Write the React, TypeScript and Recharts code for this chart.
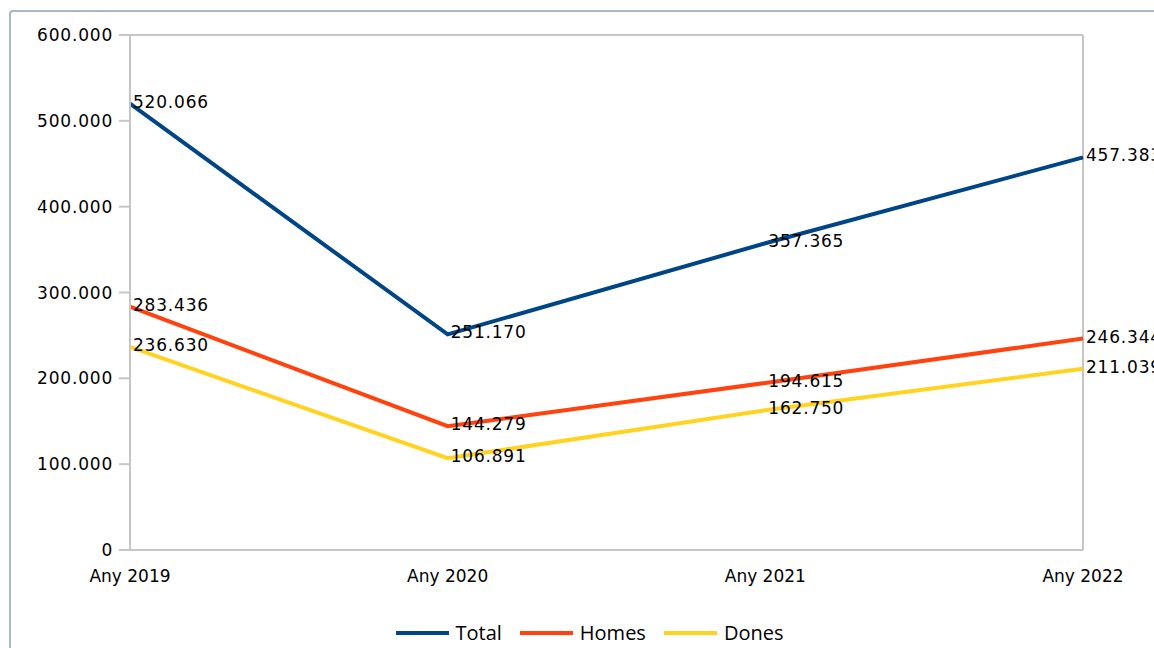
import React from 'react';
import { LineChart, Line, XAxis, YAxis, Legend, ReferenceLine } from 'recharts';

const years = ['Any 2019', 'Any 2020', 'Any 2021', 'Any 2022'];
const total = [520066, 251170, 357365, 457383];
const homes = [283436, 144279, 194615, 246344];
const dones = [236630, 106891, 162750, 211039];
const yTicks = [0, 100000, 200000, 300000, 400000, 500000, 600000];

const series = [
  { key: 'total', name: 'Total', color: '#004586' },
  { key: 'homes', name: 'Homes', color: '#ff420e' },
  { key: 'dones', name: 'Dones', color: '#ffd320' },
];

const data = years.map((year, i) => ({
  year,
  total: total[i],
  homes: homes[i],
  dones: dones[i],
}));

// thousands separated by dots, e.g. 520.066
const fmt = (v: number) => String(Math.round(v)).replace(/\B(?=(\d{3})+(?!\d))/g, '.');

const axisColor = '#c6c6c6';
const numFont = '"DejaVu Sans", sans-serif';

const renderValueLabel = (props: any) => {
  const { x, y, value } = props;
  if (x == null || y == null) return null;
  return (
    <text
      x={x + 3}
      y={y - 2}
      dominantBaseline="central"
      textAnchor="start"
      fontSize={17}
      fontFamily={numFont}
      letterSpacing={0.8}
      fill="#000"
    >
      {fmt(value)}
    </text>
  );
};

const LegendContent = () => (
  <div
    style={{
      height: 48,
      boxSizing: 'border-box',
      paddingTop: 18,
      paddingLeft: 25,
      display: 'flex',
      justifyContent: 'center',
      alignItems: 'center',
      fontFamily: '"Open Sans", sans-serif',
      fontSize: 20,
      color: '#000',
    }}
  >
    {series.map((s, i) => (
      <div key={s.key} style={{ display: 'flex', alignItems: 'center', marginRight: i < series.length - 1 ? 18 : 0 }}>
        <div style={{ width: 53, height: 4, background: s.color, marginRight: 7 }} />
        <span style={{ lineHeight: '30px' }}>{s.name}</span>
      </div>
    ))}
  </div>
);

export default function App() {
  return (
    <div
      style={{
        position: 'fixed',
        left: 0,
        top: 0,
        width: 1154,
        height: 648,
        overflow: 'hidden',
        background: '#fff',
      }}
    >
      {/* outer frame, runs off the right and bottom edges */}
      <div
        style={{
          position: 'absolute',
          left: 9,
          top: 10,
          width: 1200,
          height: 700,
          border: '2px solid #a9b7cc',
          borderRadius: 4,
        }}
      />
      <div style={{ position: 'absolute', left: 0, top: 0 }}>
        <LineChart width={1154} height={648} data={data} margin={{ top: 35, right: 71, left: 0, bottom: 0 }}>
          <XAxis
            dataKey="year"
            tickLine={false}
            tickSize={0}
            tickMargin={20}
            height={50}
            axisLine={{ stroke: axisColor, strokeWidth: 2 }}
            tick={{ fill: '#000', fontSize: 17, fontFamily: numFont }}
          />
          <YAxis
            domain={[0, 600000]}
            ticks={yTicks}
            tickFormatter={fmt}
            width={130}
            tickSize={11}
            tickMargin={6}
            axisLine={{ stroke: axisColor, strokeWidth: 2 }}
            tickLine={{ stroke: axisColor, strokeWidth: 2 }}
            tick={{ fill: '#000', fontSize: 17, fontFamily: numFont, letterSpacing: 0.8 }}
          />
          <ReferenceLine y={600000} stroke={axisColor} strokeWidth={2} />
          <ReferenceLine x="Any 2022" stroke={axisColor} strokeWidth={2} />
          <Legend verticalAlign="bottom" content={<LegendContent />} wrapperStyle={{ left: 0, width: 1154 }} />
          {series.map(s => (
            <Line
              key={s.key}
              type="linear"
              dataKey={s.key}
              name={s.name}
              stroke={s.color}
              strokeWidth={4}
              dot={false}
              activeDot={false}
              label={renderValueLabel}
              isAnimationActive={false}
            />
          ))}
        </LineChart>
      </div>
    </div>
  );
}
